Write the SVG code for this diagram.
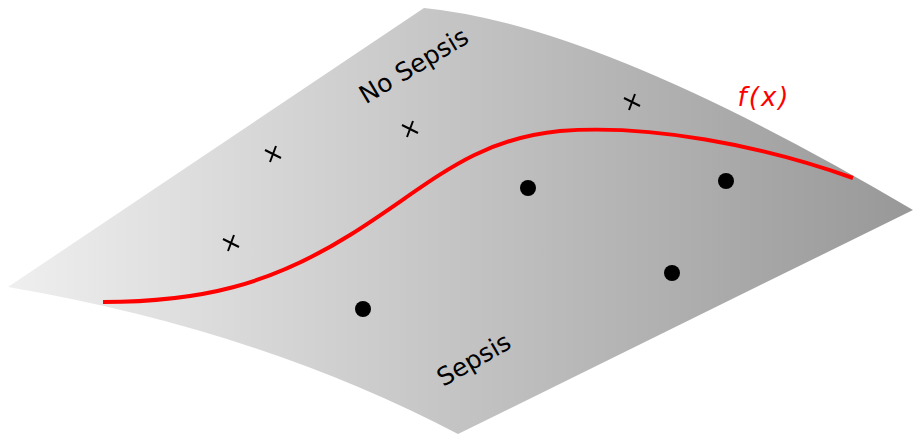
<svg xmlns="http://www.w3.org/2000/svg" width="914" height="436" viewBox="0 0 914 436">
<defs>
<linearGradient id="g" gradientUnits="userSpaceOnUse" x1="8" y1="0" x2="913" y2="0">
<stop offset="0" stop-color="#efefef"/>
<stop offset="1" stop-color="#989898"/>
</linearGradient>
<g id="cross"><path d="M-8,-4 L8,4 M3,-8 L-3,8" stroke="#000" stroke-width="2" fill="none"/></g>
</defs>
<style>
.lbl{font-family:"DejaVu Sans","Liberation Sans",sans-serif;font-size:25px;fill:#000}
.dot{fill:#000}
</style>
<rect width="914" height="436" fill="#fff"/>
<g id="surface">
<path d="M8,287 L424,8 Q600,25 913,210 L458,434 Q260,330 8,287 Z" fill="url(#g)"/>
</g>
<g id="curve">
<path d="M103,302 C200,302 270,285 350,235 C430,185 470,140 560,131 C650,124 760,145 853,178" fill="none" stroke="#ff0000" stroke-width="4"/>
</g>
<g id="crosses">
<use href="#cross" x="231" y="243"/>
<use href="#cross" x="273" y="154"/>
<use href="#cross" x="410" y="129"/>
<use href="#cross" x="632" y="102"/>
</g>
<g id="dots">
<circle class="dot" cx="363" cy="309" r="8"/>
<circle class="dot" cx="528" cy="188" r="8"/>
<circle class="dot" cx="672" cy="273" r="8"/>
<circle class="dot" cx="726" cy="181" r="8"/>
</g>
<g id="labels">
<text class="lbl" text-anchor="middle" transform="translate(418,73) rotate(-31)">No Sepsis</text>
<text class="lbl" text-anchor="middle" transform="translate(478,367) rotate(-30)">Sepsis</text>
<text x="764" y="106" text-anchor="middle" font-family="DejaVu Sans, sans-serif" font-style="italic" font-size="26" letter-spacing="2" fill="#ff0000">f(x)</text>
</g>
</svg>
